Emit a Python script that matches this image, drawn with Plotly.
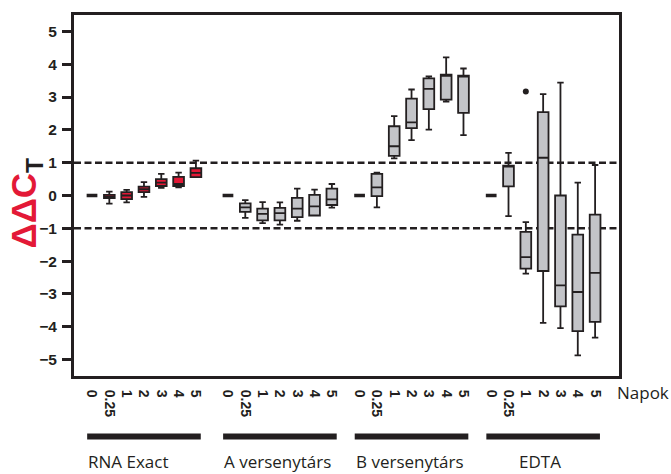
import plotly.graph_objects as go

# Sampling days and sample groups
days = ["0", "0.25", "1", "2", "3", "4", "5"]
groups = ["RNA Exact", "A versenytárs", "B versenytárs", "EDTA"]

# ddCt summary statistics per group, one value per day
rna_lo  = [0, -0.25, -0.21, -0.04, 0.23, 0.25, 0.56]
rna_q1  = [0, -0.08, -0.11, 0.10, 0.29, 0.29, 0.56]
rna_med = [0, -0.04, 0.00, 0.19, 0.39, 0.35, 0.69]
rna_q3  = [0, 0.02, 0.10, 0.27, 0.50, 0.57, 0.83]
rna_hi  = [0, 0.12, 0.17, 0.41, 0.66, 0.70, 1.06]

a_lo  = [0, -0.68, -0.84, -0.89, -0.77, -0.61, -0.37]
a_q1  = [0, -0.50, -0.76, -0.76, -0.66, -0.61, -0.29]
a_med = [0, -0.36, -0.56, -0.54, -0.40, -0.33, -0.12]
a_q3  = [0, -0.24, -0.40, -0.38, -0.07, 0.02, 0.21]
a_hi  = [0, -0.14, -0.20, -0.21, 0.21, 0.18, 0.35]

b_lo  = [0, -0.36, 1.13, 1.69, 2.01, 2.86, 1.84]
b_q1  = [0, -0.02, 1.21, 2.05, 2.63, 2.92, 2.52]
b_med = [0, 0.25, 1.50, 2.23, 3.25, 3.66, 3.63]
b_q3  = [0, 0.66, 2.11, 2.95, 3.57, 3.68, 3.65]
b_hi  = [0, 0.70, 2.42, 3.23, 3.63, 4.21, 3.87]

e_lo  = [0, -0.63, -2.38, -3.88, -4.04, -4.87, -4.33]
e_q1  = [0, 0.28, -2.23, -2.30, -3.38, -4.13, -3.85]
e_med = [0, 0.88, -1.88, 1.15, -2.74, -2.94, -2.36]
e_q3  = [0, 0.91, -1.11, 2.54, 0.00, -1.19, -0.58]
e_hi  = [0, 1.30, -0.81, 3.09, 3.44, 0.39, 0.93]

# Outliers: (group index, day index, value)
outliers = [(3, 2, 3.17)]

stats = [
    (rna_lo, rna_q1, rna_med, rna_q3, rna_hi),
    (a_lo, a_q1, a_med, a_q3, a_hi),
    (b_lo, b_q1, b_med, b_q3, b_hi),
    (e_lo, e_q1, e_med, e_q3, e_hi),
]

INK = "#231f20"
RED = "#e31937"
GRAY = "#c3c4c8"
fills = [RED, GRAY, GRAY, GRAY]
group_offset = [0, 7.85, 15.45, 23.05]

def xpos(g, d):
    return group_offset[g] + d

fig = go.Figure()

for g, (lo, q1, med, q3, hi) in enumerate(stats):
    xs = [xpos(g, d) for d in range(1, len(days))]
    fig.add_trace(go.Box(
        x=xs, lowerfence=lo[1:], q1=q1[1:], median=med[1:], q3=q3[1:],
        upperfence=hi[1:], width=0.62, whiskerwidth=0.6,
        fillcolor=fills[g], line=dict(color=INK, width=1.8),
        boxpoints=False, showlegend=False, hoverinfo="skip",
    ))
    # day 0 reference (all zero) drawn as a bold dash
    fig.add_trace(go.Box(
        x=[xpos(g, 0)], lowerfence=[lo[0]], q1=[q1[0]], median=[med[0]],
        q3=[q3[0]], upperfence=[hi[0]], width=0.62, whiskerwidth=1,
        fillcolor=INK, line=dict(color=INK, width=3.5),
        boxpoints=False, showlegend=False, hoverinfo="skip",
    ))

fig.add_trace(go.Scatter(
    x=[xpos(g, d) for g, d, v in outliers], y=[v for g, d, v in outliers],
    mode="markers", marker=dict(color=INK, size=6),
    showlegend=False, hoverinfo="skip",
))

# +-1 threshold lines
for yv in (1, -1):
    fig.add_shape(type="line", xref="paper", yref="y", x0=0, x1=1, y0=yv, y1=yv,
                  line=dict(color=INK, width=2.6, dash="7px,3.5px"), layer="below")

tickvals = [xpos(g, d) for g in range(len(groups)) for d in range(len(days))]
ticktext = days * len(groups)

label_font = dict(family="Open Sans", size=17, color=INK)

# group bars and names under the day labels
for g, name in enumerate(groups):
    fig.add_shape(type="rect", xref="x", yref="paper",
                  x0=xpos(g, 0) - 0.28, x1=xpos(g, 6) + 0.28,
                  y0=-0.159, y1=-0.176, fillcolor=INK, line=dict(width=0))
    if g < 3:
        ax, anc = xpos(g, 0) - 0.32, "left"
    else:
        ax, anc = xpos(g, 3) - 0.2, "center"
    fig.add_annotation(x=ax, y=-0.236, xref="x", yref="paper", text=name,
                       showarrow=False, xanchor=anc, yanchor="middle",
                       font=label_font)

fig.add_annotation(x=0.993, y=-0.047, xref="paper", yref="paper", text="Napok",
                   showarrow=False, xanchor="left", yanchor="middle",
                   font=label_font)

fig.add_annotation(x=-0.088, y=0.478, xref="paper", yref="paper",
                   text=f'<span style="color:{RED}">ΔΔC</span><sub>T</sub>',
                   textangle=-90, showarrow=False, xanchor="center", yanchor="middle",
                   font=dict(family="Liberation Sans, Arial", size=35, color=INK,
                             weight="bold"))

fig.update_xaxes(
    range=[-1.04, 30.43], tickvals=tickvals, ticktext=ticktext, tickangle=90,
    showline=True, mirror=True, linewidth=3, linecolor=INK, showgrid=False,
    zeroline=False, ticks="", ticklabelstandoff=8,
    tickfont=dict(family="Liberation Sans, Arial", size=14, color=INK, weight="bold"),
)
fig.update_yaxes(
    range=[-5.5, 5.5], tickvals=list(range(-5, 6)),
    showline=True, mirror=True, linewidth=3, linecolor=INK, showgrid=False,
    zeroline=False, ticks="outside", ticklen=9, tickwidth=3, tickcolor=INK,
    ticklabelstandoff=2,
    tickfont=dict(family="Liberation Sans, Arial", size=15.5, color=INK, weight="bold"),
)
fig.update_layout(
    width=671, height=474, margin=dict(l=74, r=52, t=12, b=98),
    plot_bgcolor="white", paper_bgcolor="white", boxmode="overlay",
)

fig.write_html("out.html")
